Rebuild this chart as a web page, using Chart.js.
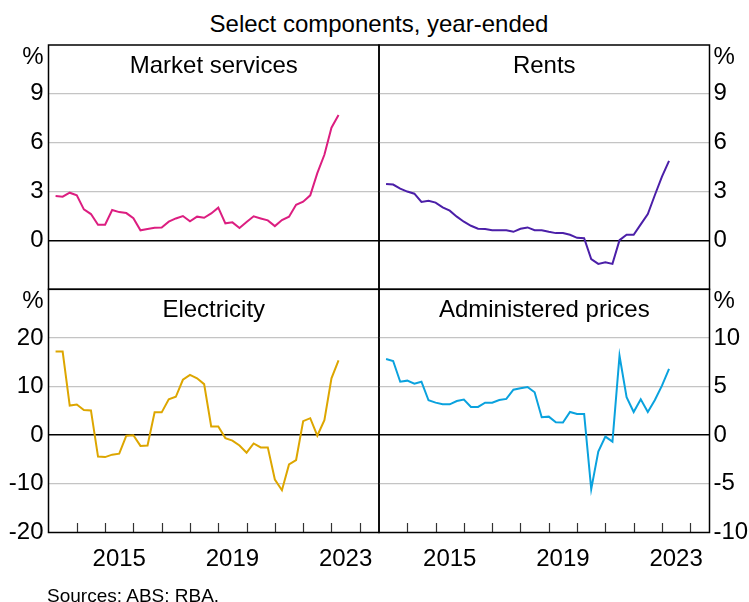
<!DOCTYPE html>
<html>
<head>
<meta charset="utf-8">
<script src="https://cdn.jsdelivr.net/npm/chart.js@4/dist/chart.umd.min.js"></script>
<style>
html,body{margin:0;padding:0;background:#fff;}
#wrap{position:relative;width:749px;height:602px;overflow:hidden;font-family:"Liberation Sans",Arial,sans-serif;background:#fff;}
canvas{position:absolute;left:0;top:0;}
.t{position:absolute;white-space:nowrap;color:#000;}
#sub{left:0;width:758px;text-align:center;top:10px;font-size:24px;line-height:28px;}
#src{left:47px;top:585px;font-size:19px;line-height:22px;}
</style>
</head>
<body>
<div id="wrap">
<div class="t" id="sub">Select components, year-ended</div>
<canvas id="c1" width="749" height="602"></canvas>
<canvas id="c2" width="749" height="602"></canvas>
<canvas id="c3" width="749" height="602"></canvas>
<canvas id="c4" width="749" height="602"></canvas>
<div class="t" id="src">Sources: ABS; RBA.</div>
</div>
<script>
// ---- data (quarterly, year-ended % change) ----
const quarters = [
 'Mar-2013','Jun-2013','Sep-2013','Dec-2013',
 'Mar-2014','Jun-2014','Sep-2014','Dec-2014',
 'Mar-2015','Jun-2015','Sep-2015','Dec-2015',
 'Mar-2016','Jun-2016','Sep-2016','Dec-2016',
 'Mar-2017','Jun-2017','Sep-2017','Dec-2017',
 'Mar-2018','Jun-2018','Sep-2018','Dec-2018',
 'Mar-2019','Jun-2019','Sep-2019','Dec-2019',
 'Mar-2020','Jun-2020','Sep-2020','Dec-2020',
 'Mar-2021','Jun-2021','Sep-2021','Dec-2021',
 'Mar-2022','Jun-2022','Sep-2022','Dec-2022',
 'Mar-2023'
];
const marketServices = [2.73,2.69,2.93,2.77,1.91,1.62,0.96,0.96,1.87,1.74,1.68,1.37,0.62,0.70,0.78,0.80,
 1.15,1.35,1.50,1.17,1.46,1.39,1.66,2.01,1.05,1.11,0.76,1.13,1.48,1.35,1.23,0.88,1.25,1.46,2.19,2.38,
 2.77,4.13,5.26,6.92,7.70];
const rents = [3.47,3.43,3.18,3.00,2.87,2.36,2.44,2.32,2.03,1.83,1.46,1.15,0.90,0.72,0.70,0.63,
 0.62,0.62,0.53,0.72,0.80,0.63,0.62,0.53,0.45,0.45,0.35,0.16,0.14,-1.15,-1.44,-1.34,-1.44,0.02,0.35,0.35,
 0.99,1.62,2.79,3.92,4.89];
const electricity = [17.2,17.2,6.1,6.3,5.2,5.1,-4.4,-4.5,-4.0,-3.8,-0.1,0.0,-2.2,-2.1,4.7,4.7,
 7.4,7.9,11.4,12.4,11.7,10.5,1.8,1.8,-0.6,-1.1,-2.1,-3.6,-1.7,-2.5,-2.5,-9.1,-11.3,-6.0,-5.1,2.9,
 3.5,-0.1,3.1,11.7,15.4];
const administered = [7.83,7.63,5.50,5.61,5.30,5.50,3.59,3.35,3.18,3.18,3.52,3.66,2.91,2.91,3.35,3.35,
 3.62,3.73,4.68,4.83,4.96,4.41,1.85,1.91,1.33,1.30,2.39,2.19,2.19,-5.54,-1.68,-0.14,-0.66,8.17,3.90,2.39,
 3.70,2.39,3.62,5.09,6.81];

const titles = ['Market services','Rents','Electricity','Administered prices'];
const topTicks = [0,3,6,9];
const elecTicks = [-20,-10,0,10,20];
const adminTicks = [-10,-5,0,5,10];
const yearLabels = ['2015','2019','2023'];
const colors = ['#DC1E80','#4B1FA8','#DDA600','#0AA2DE'];

// ---- helpers ----
const FONT = '"Liberation Sans", Arial, sans-serif';
const qOffset = {Mar:0.25, Jun:0.5, Sep:0.75, Dec:1.0};
function qToX(q){ const [m,y] = q.split('-'); return +y + qOffset[m]; }
function toPoints(vals){ return vals.map((v,i)=>({x:qToX(quarters[i]), y:v})); }

const L = 48.5, M = 379, R = 709.5, T = 45, H = 289.3, B = 532.5;
const W = 749, HT = 602;
const XMIN = 2013, XMAX = 2024.68;

const panelPlugin = {
  id: 'panel',
  afterDraw(chart, args, o) {
    const {ctx, chartArea: a} = chart;
    ctx.save();
    if (o.ticks) {
      const xs = chart.scales.x;
      ctx.strokeStyle = '#333'; ctx.lineWidth = 1.2;
      for (let yr = Math.ceil(XMIN + 0.01); yr <= XMAX; yr++) {
        const px = Math.round(xs.getPixelForValue(yr)) + 0.5;
        ctx.beginPath(); ctx.moveTo(px, a.bottom); ctx.lineTo(px, a.bottom - 9.5); ctx.stroke();
      }
    }
    ctx.strokeStyle = '#000'; ctx.lineWidth = 1.5;
    ctx.strokeRect(a.left, a.top, a.right - a.left, a.bottom - a.top);
    ctx.fillStyle = '#000';
    ctx.font = '24px ' + FONT;
    ctx.textAlign = 'center'; ctx.textBaseline = 'alphabetic';
    ctx.fillText(o.title, (a.left + a.right) / 2, a.top + 27.5);
    ctx.restore();
  }
};

function makePanel(id, cfg) {
  const {vals, color, title, ymin, ymax, step, shown, side, bottom} = cfg;
  const pct = ymax - (ymax - ymin) * 12 / 244;
  const tickVals = [];
  for (let v = ymin; v <= ymax + 1e-9; v += step) tickVals.push(v);
  tickVals.push(pct);
  const inner = tickVals.filter(v => v > ymin && v < ymax && v !== 0 && v !== pct);
  const xAxisH = 50;
  const pad = {
    left: side === 'left' ? 0 : M,
    right: side === 'left' ? W - M : 0,
    top: bottom ? H : T,
    bottom: bottom ? HT - B - xAxisH : HT - H
  };
  const yW = side === 'left' ? L : W - R;
  const xScale = bottom ? {
    type: 'linear', min: XMIN, max: XMAX,
    afterBuildTicks: s => { s.ticks = yearLabels.map(l => ({value: +l + 0.5})); },
    afterFit: s => { s.height = xAxisH; },
    ticks: { autoSkip: false, maxRotation: 0, padding: 12, color: '#000',
      font: {family: FONT, size: 24},
      callback: v => String(Math.floor(v)) },
    grid: { display: false, drawTicks: false },
    border: { display: false }
  } : { type: 'linear', min: XMIN, max: XMAX, display: false };
  return new Chart(document.getElementById(id), {
    type: 'line',
    data: { datasets: [{
      data: toPoints(vals), borderColor: color, borderWidth: 2,
      pointRadius: 0, tension: 0, fill: false
    }]},
    options: {
      responsive: false, animation: false, devicePixelRatio: 1,
      layout: { padding: pad },
      plugins: { legend: {display: false}, tooltip: {enabled: false},
        panel: { title: title, ticks: bottom } },
      scales: {
        x: xScale,
        y: {
          type: 'linear', position: side, min: ymin, max: ymax,
          afterBuildTicks: s => { s.ticks = tickVals.map(v => ({value: v})); },
          afterFit: s => { s.width = yW; },
          ticks: { autoSkip: false, padding: side === 'left' ? 5 : 4, color: '#000',
            font: {family: FONT, size: 24},
            callback: v => v === pct ? '%' : (shown.includes(v) ? String(v) : '') },
          grid: { drawTicks: false,
            color: c => { const v = c.tick ? c.tick.value : null;
              if (v === 0) return '#000';
              return inner.includes(v) ? '#c4c4c4' : 'rgba(0,0,0,0)'; },
            lineWidth: c => (c.tick && c.tick.value === 0) ? 1.5 : 1.3 },
          border: { display: false }
        }
      }
    },
    plugins: [panelPlugin]
  });
}

makePanel('c1', {vals: marketServices, color: colors[0], title: titles[0], ymin: -3, ymax: 12, step: 3, shown: topTicks, side: 'left', bottom: false});
makePanel('c2', {vals: rents, color: colors[1], title: titles[1], ymin: -3, ymax: 12, step: 3, shown: topTicks, side: 'right', bottom: false});
makePanel('c3', {vals: electricity, color: colors[2], title: titles[2], ymin: -20, ymax: 30, step: 10, shown: elecTicks, side: 'left', bottom: true});
makePanel('c4', {vals: administered, color: colors[3], title: titles[3], ymin: -10, ymax: 15, step: 5, shown: adminTicks, side: 'right', bottom: true});
</script>
</body>
</html>
